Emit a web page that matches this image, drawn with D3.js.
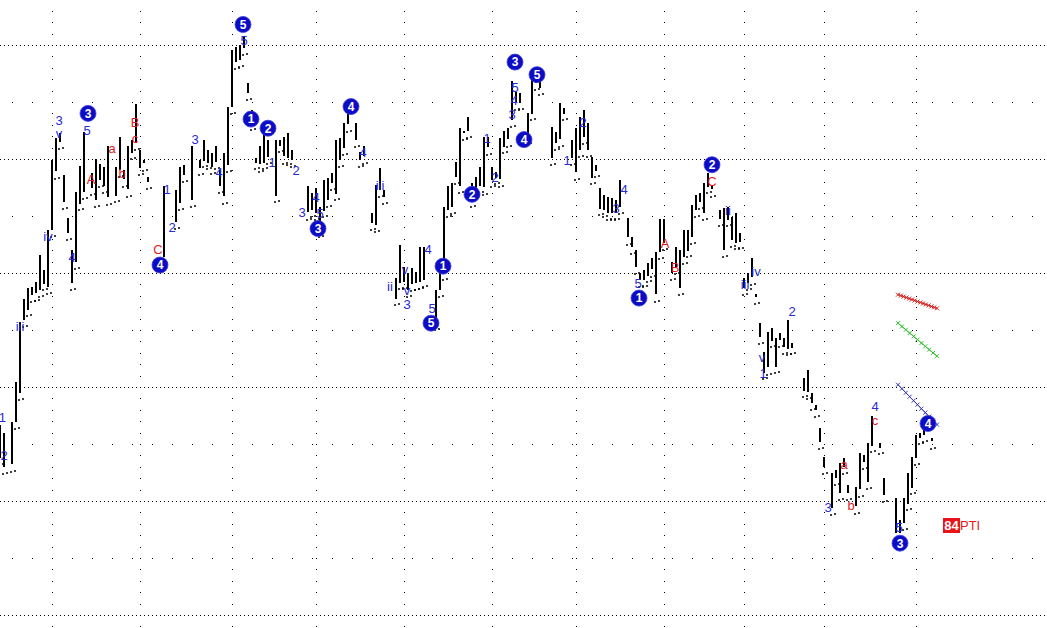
<!DOCTYPE html>
<html>
<head>
<meta charset="utf-8">
<script src="https://cdn.jsdelivr.net/npm/d3@7"></script>
<style>
  body { margin: 0; background: #fff; }
  svg { display: block; font-family: Arial, "Liberation Sans", sans-serif; }
</style>
</head>
<body>
<script>
var width = 1047,
    height = 628;

// bar highs / lows, one per trading day (null = no bar drawn)
var highs = [
  1167,1160,null,1169,1204,1257,1277,1287,1288,1292,
  1316,1303,1338,1399,1418,1423,1386,1348,1320,1371,
  1394,1424,null,1388,1400,1396,1393,1411,null,1393,
  1419,1390,1411,1417,1448,1408,1399,1384,null,null,
  null,1376,null,null,1373,1393,1395,null,1411,null,
  1399,1417,1408,1405,1411,1390,1405,1446,1496,1498,
  1500,1507,1467,1443,1401,1411,1423,1417,null,1417,
  1417,1419,1423,1408,null,null,null,1376,1370,1375,
  1358,1382,1383,1388,1417,1418,1432,1440,null,1432,
  1406,1411,null,1353,1377,1392,1373,null,null,1296,
  1325,1305,1300,1304,1301,1323,1323,null,null,1285,
  1300,1358,1376,1379,1397,1427,1425,1437,1379,1384,
  1393,1419,1419,1393,1389,1418,1425,1427,1468,1459,
  1458,null,1440,1475,1472,1468,null,null,1428,1424,
  1449,1445,null,1417,1427,1437,1443,1432,1402,1395,
  1375,1368,1367,1366,1364,1382,null,1348,1332,1320,
  1300,1303,1309,1313,1318,1347,1347,null,1310,1323,
  1320,1338,1338,1360,1368,1370,1379,1388,1376,null,
  1355,1357,1358,1349,1353,1335,1296,1300,1313,1282,
  1256,1231,1248,1252,1243,1247,1243,1259,1239,null,
  null,1208,1215,1195,1184,1164,1139,null,1125,1127,
  1133,1138,1114,null,1112,1142,1140,1151,1175,null,
  1151,1120,null,null,1103,1083,1103,1125,1139,1158,
  1160,1164,null,1155
];
var lows = [
  1138,1130,null,1132,1169,1195,1259,1268,1281,1282,
  1285,1291,1288,1338,1389,1415,1362,1335,1291,1310,
  1361,1371,null,1375,1364,1382,1376,1366,null,1368,
  1390,1382,1373,1406,1414,1392,1396,1380,null,null,
  null,1314,null,null,1345,1361,1386,null,1364,null,
  1392,1399,1397,1393,1397,1376,1367,1395,1446,1485,
  1487,1497,1458,1432,1397,1395,1397,1402,null,1368,
  1412,1402,1401,1399,null,null,null,1353,1355,1353,
  1338,1355,1364,1379,1370,1399,1410,1430,null,1417,
  1399,1402,null,1344,1342,1373,1367,null,null,1278,
  1292,1292,1285,1290,1291,1292,1294,null,null,1256,
  1285,1300,1355,1358,1384,1376,1423,1425,1364,1373,
  1376,1375,1410,1382,1384,1382,1411,1417,1434,1449,
  1449,null,1419,1440,1467,1462,null,null,1401,1414,
  1417,1440,null,1401,1388,1408,1419,1408,1384,1390,
  1357,1355,1353,1353,1353,1358,null,1331,1323,1305,
  1294,1294,1298,1303,1281,1318,1326,null,1300,1305,
  1287,1314,1320,1332,1355,1362,1353,1376,1373,null,
  1347,1320,1347,1329,1327,1327,1287,1291,1296,1279,
  1244,1213,1217,1241,1218,1241,1235,1234,1235,null,
  null,1197,1196,1186,1180,1152,1130,null,1094,1120,
  1107,1130,1107,null,1095,1110,1134,1117,1149,null,
  1147,1105,null,null,1072,1072,1081,1098,1112,1138,
  1156,1158,null,1152
];

var monthStarts = [13, 35, 58, 79, 101, 123, 144, 166, 186, 206, 229];
var majorLevels = [1000, 1100, 1200, 1300, 1400, 1500];
var minorLevels = [1050, 1150, 1250, 1350, 1450];

// wave counts: [bar, price, text]
var blueLabels = [
  [0.6,1173,"1"],[1,1140,"2"],[5,1253,"iii"],[12,1332,"iv"],[14.75,1434,"3"],[14.75,1422,"v"],
  [18,1314,"4"],[21.75,1425,"5"],[41.75,1373,"1"],[43,1340,"2"],[48.75,1417,"3"],[54.75,1388,"4"],
  [61,1504,"5"],[68,1397,"1"],[74,1390,"2"],[75.5,1353,"3"],[79,1366,"4"],[80,1352,"5"],
  [90.75,1406,"4"],[95,1377,"iii"],[97.5,1288,"ii"],[101.25,1303,"v"],[101.75,1285,"v"],
  [101.75,1272,"3"],[107,1321,"4"],[108,1269,"5"],[121.75,1418,"1"],[123.75,1384,"2"],
  [128,1439,"3"],[128.5,1451,"4"],[128.75,1463,"5"],[141.75,1399,"1"],[145.75,1432,"2"],
  [154,1357,"3"],[156,1373,"4"],[159.5,1291,"5"],[182,1355,"ii"],[186.25,1290,"iii"],
  [189,1301,"iv"],[198,1266,"2"],[190.5,1226,"v"],[190.75,1212,"1"],[207,1094,"3"],
  [218.75,1183,"4"],[224.75,1077,"5"]
];
var redLabels = [
  [22.75,1382,"A"],[28,1409,"a"],[30.5,1387,"b"],[33.75,1432,"B"],[33.75,1418,"c"],[39.5,1321,"C"],
  [166.25,1326,"A"],[168.75,1305,"B"],[178,1380,"C"],[211,1132,"a"],[212.75,1096,"b"],[218.75,1171,"c"]
];
// circled degree labels: [bar, price, number]
var circles = [
  [22,1440,"3"],[40,1307,"4"],[60.75,1518,"5"],[62.75,1435,"1"],[67,1427,"2"],[79.5,1339,"3"],
  [87.75,1446,"4"],[107.75,1256,"5"],[110.75,1306,"1"],[118,1369,"2"],[128.75,1485,"3"],
  [131,1417,"4"],[134.25,1474,"5"],[159.75,1278,"1"],[178,1395,"2"],[225,1063,"3"],[232,1168,"4"]
];
// projection lines: [bar0, price0, bar1, price1, colour, marks]
var targets = [
  [224.5, 1281, 234.25, 1269, "#d42020", 14],
  [224.5, 1256, 234.25, 1227, "#2ec02e", 10],
  [224.5, 1202, 234.25, 1167, "#3a3ab8", 10]
];

var x = d3.scaleLinear().domain([0, 261.75]).range([0, width]);
var y = d3.scaleLinear().domain([1000, 1500]).range([615, 45]);

var svg = d3.select("body").append("svg")
    .attr("width", width)
    .attr("height", height);

// grid
svg.append("g").selectAll("line")
    .data(majorLevels)
    .enter().append("line")
    .attr("x1", 0).attr("x2", width)
    .attr("y1", function(d) { return Math.round(y(d)) + 0.5; })
    .attr("y2", function(d) { return Math.round(y(d)) + 0.5; })
    .attr("stroke", "#000")
    .attr("stroke-dasharray", "1,3");

var minorDots = [];
minorLevels.forEach(function(l) {
  d3.range(3, 262, 5).forEach(function(i) { minorDots.push([i, l]); });
});
var vertDots = [];
monthStarts.forEach(function(m) {
  d3.range(960, 1551, 10).forEach(function(p) {
    if (p % 100 !== 0) vertDots.push([m, p]);
  });
});
svg.append("g").selectAll("rect")
    .data(minorDots.concat(vertDots))
    .enter().append("rect")
    .attr("x", function(d) { return Math.round(x(d[0])); })
    .attr("y", function(d) { return Math.round(y(d[1])); })
    .attr("width", 1).attr("height", 1)
    .attr("fill", "#000");

// bars
var bars = d3.range(highs.length).filter(function(i) { return highs[i] !== null; });

svg.append("g").selectAll("rect")
    .data(bars)
    .enter().append("rect")
    .attr("x", function(i) { return Math.round(x(i)) - 1; })
    .attr("y", function(i) { return Math.round(y(highs[i])); })
    .attr("width", 2)
    .attr("height", function(i) { return Math.max(2, Math.round(y(lows[i]) - y(highs[i]))); })
    .attr("fill", "#000");

// little tick pairs under the bars
svg.append("g").selectAll("path")
    .data(bars)
    .enter().append("path")
    .attr("d", function(i) {
      var px = Math.round(x(i)), py = Math.round(y(lows[i])) + 7;
      return "M" + (px - 2) + "," + py + "h2 M" + (px + 2) + "," + (py - 1) + "h2";
    })
    .attr("stroke", "#000")
    .attr("stroke-width", 1.5);

// projection lines
targets.forEach(function(t) {
  var g = svg.append("g");
  g.append("line")
      .attr("x1", x(t[0])).attr("y1", y(t[1]))
      .attr("x2", x(t[2])).attr("y2", y(t[3]))
      .attr("stroke", t[4]).attr("stroke-width", 1);
  d3.range(t[5] + 1).forEach(function(k) {
    var f = k / t[5];
    var cx = x(t[0] + (t[2] - t[0]) * f), cy = y(t[1] + (t[3] - t[1]) * f);
    g.append("path")
        .attr("d", "M" + (cx - 2) + "," + (cy - 2) + "L" + (cx + 2) + "," + (cy + 2) +
                   "M" + (cx - 2) + "," + (cy + 2) + "L" + (cx + 2) + "," + (cy - 2))
        .attr("stroke", t[4]).attr("stroke-width", 1);
  });
});

// wave labels
svg.append("g").selectAll("text")
    .data(blueLabels)
    .enter().append("text")
    .attr("x", function(d) { return x(d[0]); })
    .attr("y", function(d) { return y(d[1]); })
    .attr("dy", "0.35em")
    .attr("text-anchor", "middle")
    .attr("font-size", 13)
    .attr("fill", "#2a2ad2")
    .text(function(d) { return d[2]; });

svg.append("g").selectAll("text")
    .data(redLabels)
    .enter().append("text")
    .attr("x", function(d) { return x(d[0]); })
    .attr("y", function(d) { return y(d[1]); })
    .attr("dy", "0.35em")
    .attr("text-anchor", "middle")
    .attr("font-size", 13)
    .attr("fill", "#e01c1c")
    .text(function(d) { return d[2]; });

var cg = svg.append("g").selectAll("g")
    .data(circles)
    .enter().append("g")
    .attr("transform", function(d) { return "translate(" + x(d[0]) + "," + y(d[1]) + ")"; });
cg.append("circle")
    .attr("r", 8)
    .attr("fill", "#0c0cc4")
    .attr("stroke", "#3c3ce0")
    .attr("stroke-width", 0.8);
cg.append("text")
    .attr("dy", "0.36em")
    .attr("text-anchor", "middle")
    .attr("font-size", 12)
    .attr("font-weight", "bold")
    .attr("fill", "#fff")
    .text(function(d) { return d[2]; });

// tag at right
var tag = svg.append("g").attr("transform", "translate(943,518)");
tag.append("rect").attr("width", 17).attr("height", 15).attr("fill", "#e8141c");
tag.append("text").attr("x", 8.5).attr("y", 12).attr("text-anchor", "middle")
    .attr("font-size", 13).attr("font-weight", "bold").attr("fill", "#fff").text("84");
tag.append("text").attr("x", 17).attr("y", 12)
    .attr("font-size", 13).attr("fill", "#e8141c").text("PTI");
</script>
</body>
</html>
